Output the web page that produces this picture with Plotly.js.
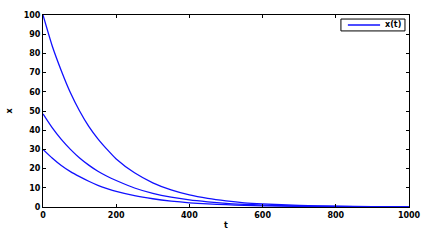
<!DOCTYPE html>
<html>
<head>
<meta charset="utf-8">
<script src="https://cdn.plot.ly/plotly-3.0.1.min.js"></script>
<style>html,body{margin:0;padding:0;background:#fff;}#chart{width:438px;height:240px;}</style>
</head>
<body>
<div id="chart"></div>
<script>
var tValues = [0,25,50,75,100,125,150,175,200,250,300,350,400,450,500,550,600,700,800,900,1000];
var xUpper  = [100,84,71,59.5,50,42,35.5,30,25,17.8,12.6,8.9,6.3,4.5,3.2,2.2,1.6,0.8,0.4,0.2,0.1];
var xMiddle = [48.5,41.3,35.2,30.0,25.5,21.8,18.6,16.0,13.8,9.9,7.1,5.1,3.7,2.7,1.9,1.4,1.0,0.5,0.3,0.15,0.08];
var xLower  = [30,25.5,21.6,18.4,15.8,13.4,11.3,9.6,8.1,5.9,4.3,3.1,2.2,1.6,1.2,0.85,0.6,0.3,0.15,0.08,0.04];
var seriesName = 'x(t)';
var xTickVals = [0,200,400,600,800,1000];
var yTickVals = [0,10,20,30,40,50,60,70,80,90,100];

var lineColor = '#1010ff';
var lineStyle = {color:lineColor, width:1.3, shape:'spline', smoothing:0.6};
var traces = [
  {x:tValues, y:xUpper, mode:'lines', name:seriesName, line:lineStyle},
  {x:tValues, y:xMiddle, mode:'lines', name:seriesName, line:lineStyle},
  {x:tValues, y:xLower, mode:'lines', name:seriesName, line:lineStyle}
];
var fontFam = 'DejaVu Sans, Arial, sans-serif';
var tickFont = {family:fontFam, size:8, color:'#000', weight:'bold'};
var layout = {
  width:438, height:240,
  margin:{l:43, r:29, t:15, b:33},
  paper_bgcolor:'#fff', plot_bgcolor:'#fff',
  showlegend:false,
  xaxis:{range:[0,1000], tickvals:xTickVals, ticks:'inside', ticklen:3, tickcolor:'#000',
         showline:true, linecolor:'#000', linewidth:1, mirror:'ticks', showgrid:false, zeroline:false,
         tickfont:tickFont, title:{text:'t', font:tickFont, standoff:3}},
  yaxis:{range:[0,100], tickvals:yTickVals, ticks:'inside', ticklen:3, tickcolor:'#000',
         showline:true, linecolor:'#000', linewidth:1, mirror:'ticks', showgrid:false, zeroline:false,
         tickfont:tickFont, title:{text:'x', font:tickFont, standoff:9}},
  shapes:[
    {type:'rect', xref:'paper', yref:'paper', x0:0.814, x1:0.989, y0:0.917, y1:0.979,
     line:{color:'#000', width:1}, fillcolor:'#fff', layer:'above'},
    {type:'line', xref:'paper', yref:'paper', x0:0.833, x1:0.921, y0:0.948, y1:0.948,
     line:{color:lineColor, width:1.3}, layer:'above'}
  ],
  annotations:[
    {xref:'paper', yref:'paper', x:0.928, y:0.948, xanchor:'left', yanchor:'middle',
     text:seriesName, showarrow:false, font:{family:fontFam, size:8, color:'#000', weight:'bold'}}
  ]
};
Plotly.newPlot('chart', traces, layout, {displayModeBar:false, staticPlot:true});
</script>
</body>
</html>
